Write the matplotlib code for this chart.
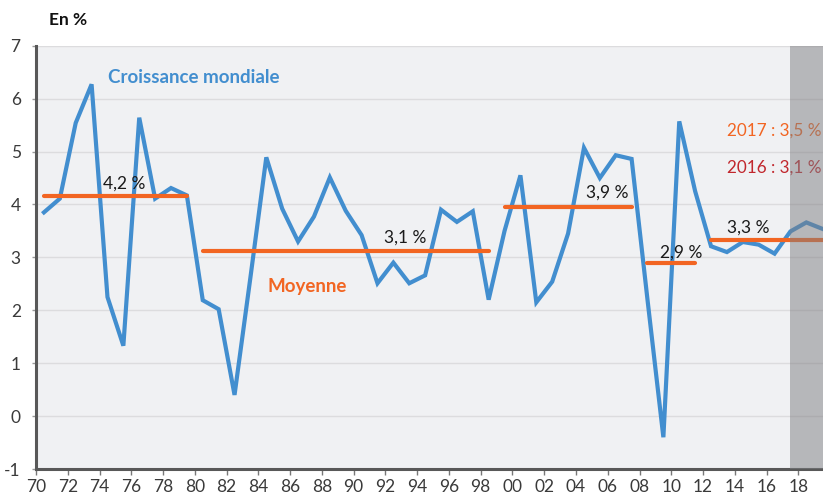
import matplotlib
matplotlib.use("Agg")
import matplotlib.pyplot as plt
import numpy as np

plt.rcParams['font.family'] = ['Lato', 'DejaVu Sans']

# Croissance mondiale, en %
years = list(range(1970, 2020))
growth = [3.85, 4.11, 5.54, 6.27, 2.25, 1.33, 5.64, 4.11, 4.31, 4.17,
          2.19, 2.02, 0.40, 2.62, 4.89, 3.92, 3.30, 3.77, 4.51, 3.88,
          3.42, 2.51, 2.90, 2.51, 2.66, 3.90, 3.67, 3.87, 2.20, 3.50,
          4.55, 2.15, 2.54, 3.45, 5.07, 4.50, 4.93, 4.86, 2.20, -0.40,
          5.57, 4.25, 3.21, 3.10, 3.29, 3.24, 3.07, 3.49, 3.66, 3.54]

# Moyennes par période: (début, fin, valeur, libellé)
avg_start = [1970, 1980, 1999, 2008, 2012]
avg_end = [1979, 1998, 2007, 2011, 2019.2]
avg_value = [4.16, 3.12, 3.95, 2.90, 3.32]
avg_label = ["4,2 %", "3,1 %", "3,9 %", "2,9 %", "3,3 %"]
avg_label_pos = [(1973.7, 4.40), (1991.4, 3.38), (2004.1, 4.23),
                 (2008.8, 3.09), (2013.0, 3.56)]

tick_years = list(range(1970, 2020, 2))
tick_labels = ["%02d" % (y % 100) for y in tick_years]

blue = "#428ecf"
orange = "#f26522"
red = "#c1272d"
grey_txt = "#3a3a3a"

fig = plt.figure(figsize=(8.23, 4.95), dpi=100)
ax = fig.add_axes([36 / 823, 1 - 469 / 495, 1 - 36 / 823, (469 - 45.7) / 495])
ax.set_facecolor("#f0f1f3")

ax.set_xlim(1969.5, 2019.05)
ax.set_ylim(-1, 7)
ax.set_yticks(range(-1, 8))
ax.set_yticklabels([str(v) for v in range(-1, 8)])
ax.set_xticks([y - 0.5 for y in tick_years])
ax.set_xticklabels(tick_labels)

ax.grid(axis="y", color="#dcdcde", linewidth=1.0)
ax.set_axisbelow(True)
for s in ["top", "right"]:
    ax.spines[s].set_visible(False)
for s in ["left", "bottom"]:
    ax.spines[s].set_color("#585858")
    ax.spines[s].set_linewidth(2.2)
ax.tick_params(axis="x", length=4, width=1, color="#777777", labelsize=12.5,
               labelcolor=grey_txt, pad=3)
ax.tick_params(axis="y", length=3, width=1, color="#999999", labelsize=12.5,
               labelcolor=grey_txt, pad=8)

# Courbe de croissance
ax.plot(years, growth, color=blue, linewidth=3.0, solid_joinstyle="miter", zorder=3)

# Moyennes
for i in range(len(avg_value)):
    ax.plot([avg_start[i], avg_end[i]], [avg_value[i], avg_value[i]],
            color=orange, linewidth=3.0, solid_capstyle="round", zorder=4)
    ax.text(avg_label_pos[i][0], avg_label_pos[i][1], avg_label[i],
            fontsize=12.5, color="#1a1a1a", va="center", ha="left", zorder=4)

ax.text(1974.03, 6.39, "Croissance mondiale", color=blue, fontsize=13.5,
        fontweight="bold", va="center", ha="left")
ax.text(1984.1, 2.44, "Moyenne", color=orange, fontsize=13.5,
        fontweight="bold", va="center", ha="left")
ax.text(2013.0, 5.39, "2017 : 3,5 %", color=orange, fontsize=12.3,
        va="center", ha="left", zorder=4)
ax.text(2013.0, 4.69, "2016 : 3,1 %", color=red, fontsize=12.3,
        va="center", ha="left", zorder=4)

# Zone de prévision
ax.axvspan(2016.95, 2019.3, facecolor="#7d7e82", alpha=0.5, edgecolor="none", zorder=5)

fig.text(49 / 823, 1 - 20 / 495, "En %", fontsize=12.5, fontweight="bold",
         color="#111111", va="center", ha="left")

fig.savefig("out.png", dpi=100)
